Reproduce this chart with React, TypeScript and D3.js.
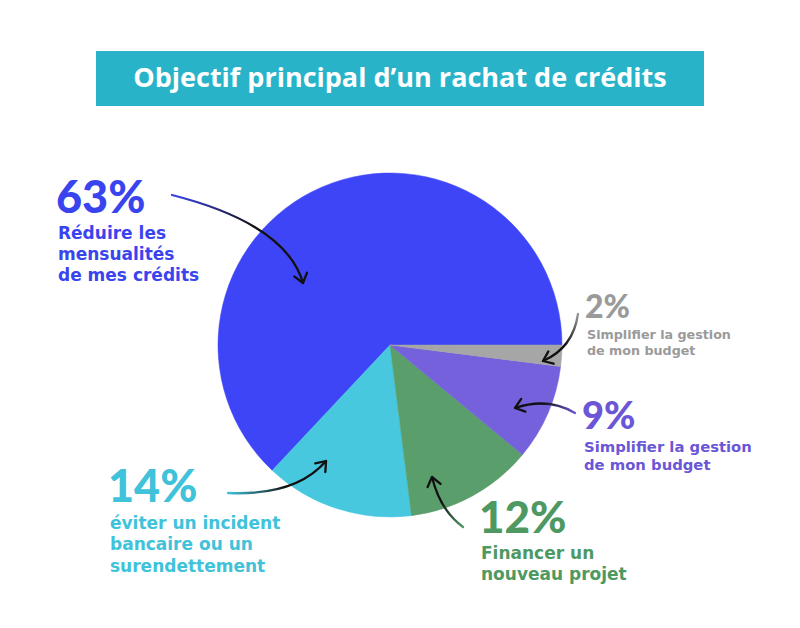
import { useEffect, useRef } from "react";
import * as d3 from "d3";

// data
const categories = [
  "Réduire les mensualités de mes crédits",
  "éviter un incident bancaire ou un surendettement",
  "Financer un nouveau projet",
  "Simplifier la gestion de mon budget",
  "Simplifier la gestion de mon budget",
];
const shares = [63, 14, 12, 9, 2];
const labelLines = [
  ["Réduire les", "mensualités", "de mes crédits"],
  ["éviter un incident", "bancaire ou un", "surendettement"],
  ["Financer un", "nouveau projet"],
  ["Simplifier la gestion", "de mon budget"],
  ["Simplifier la gestion", "de mon budget"],
];
const title = "Objectif principal d\u2019un rachat de crédits";

const sliceColors = ["#3d45f7", "#47c8de", "#5a9e6c", "#7561dc", "#a6a6a6"];
const textColors = ["#3a44ee", "#40c2da", "#4e9862", "#6a56d6", "#9a9a9a"];

// layout of each annotation: label anchor, sizes, arrow (start, control, tip)
const layout = [
  { x: 56, y: 213, big: 45, small: 17, lh: 21, arrow: [[172, 195], [286, 224], [303, 283]] },
  { x: 108, y: 502, big: 45, small: 17, lh: 21.5, arrow: [[228, 493], [296, 496], [326, 461]] },
  { x: 479, y: 533, big: 44, small: 17, lh: 21, arrow: [[463, 527], [440, 510], [432, 477]] },
  { x: 582, y: 429, big: 38, small: 14.8, lh: 18, arrow: [[575, 413], [548, 397], [515, 408]] },
  { x: 585, y: 318, big: 32, small: 12.7, lh: 16, arrow: [[578, 314], [573, 348], [543, 361]] },
];

const W = 800;
const H = 628;
const cx = 390;
const cy = 345;
const R = 172;
const TITLE_FONT = "'Open Sans', Lato, sans-serif";
const FONT = "'DejaVu Sans', 'Open Sans', sans-serif";
const NUM_FONT = "Lato, 'Open Sans', sans-serif";

export default function App() {
  const svgRef = useRef<SVGSVGElement>(null);

  useEffect(() => {
    if (!svgRef.current) return;
    const svg = d3.select(svgRef.current);
    svg.selectAll("*").remove();

    const rows = categories.map((c, i) => ({ category: c, value: shares[i], i }));

    svg.append("rect").attr("width", W).attr("height", H).attr("fill", "#fff");

    // Title banner
    svg
      .append("rect")
      .attr("x", 96)
      .attr("y", 51)
      .attr("width", 608)
      .attr("height", 55)
      .attr("fill", "#29b3c9");
    const titleText = svg
      .append("text")
      .attr("x", W / 2)
      .attr("y", 87)
      .attr("text-anchor", "middle")
      .style("font-family", TITLE_FONT)
      .style("font-weight", 700)
      .style("font-size", "25px")
      .style("fill", "#fff")
      .text(title);
    // fit the title to the width it has in the original (about 552px)
    const tw = (titleText.node() as SVGTextElement).getComputedTextLength();
    if (tw > 0) titleText.style("font-size", `${Math.min(27, (25 * 552) / tw)}px`);

    // Pie, counter-clockwise from 3 o'clock
    const pie = d3
      .pie<(typeof rows)[number]>()
      .value((d) => d.value)
      .sort(null)
      .startAngle(Math.PI / 2)
      .endAngle(Math.PI / 2 - 2 * Math.PI);

    const arc = d3.arc<d3.PieArcDatum<(typeof rows)[number]>>().innerRadius(0).outerRadius(R);

    const g = svg.append("g").attr("transform", `translate(${cx}, ${cy})`);
    g.selectAll("path")
      .data(pie(rows))
      .enter()
      .append("path")
      .attr("d", arc)
      .attr("fill", (d) => sliceColors[d.data.i])
      .attr("stroke", (d) => sliceColors[d.data.i])
      .attr("stroke-width", 0.5);

    const defs = svg.append("defs");

    // Labels + arrows
    rows.forEach((d, i) => {
      const l = layout[i];
      const col = textColors[i];

      svg
        .append("text")
        .attr("x", l.x)
        .attr("y", l.y)
        .style("font-family", NUM_FONT)
        .style("font-weight", 900)
        .style("font-size", `${l.big}px`)
        .style("fill", col)
        .text(`${d.value}%`);

      const t = svg
        .append("text")
        .style("font-family", FONT)
        .style("font-weight", 700)
        .style("font-size", `${l.small}px`)
        .style("fill", col);
      labelLines[i].forEach((line, k) => {
        t.append("tspan")
          .attr("x", l.x + 2)
          .attr("y", l.y + l.lh * (k + 1) + 5)
          .text(line);
      });

      const [s, c, e] = l.arrow;
      const gradId = `grad-${i}`;
      const grad = defs
        .append("linearGradient")
        .attr("id", gradId)
        .attr("gradientUnits", "userSpaceOnUse")
        .attr("x1", s[0])
        .attr("y1", s[1])
        .attr("x2", e[0])
        .attr("y2", e[1]);
      grad.append("stop").attr("offset", "0%").attr("stop-color", col);
      grad.append("stop").attr("offset", "55%").attr("stop-color", "#111");
      grad.append("stop").attr("offset", "100%").attr("stop-color", "#111");

      const p = d3.path();
      p.moveTo(s[0], s[1]);
      p.quadraticCurveTo(c[0], c[1], e[0], e[1]);
      svg
        .append("path")
        .attr("d", p.toString())
        .attr("fill", "none")
        .attr("stroke", `url(#${gradId})`)
        .attr("stroke-width", 2.3)
        .attr("stroke-linecap", "round");

      // arrow head
      const ang = Math.atan2(e[1] - c[1], e[0] - c[0]);
      const len = 11;
      const spread = 0.65;
      const a1 = [e[0] - len * Math.cos(ang - spread), e[1] - len * Math.sin(ang - spread)];
      const a2 = [e[0] - len * Math.cos(ang + spread), e[1] - len * Math.sin(ang + spread)];
      svg
        .append("path")
        .attr("d", `M${a1[0]},${a1[1]}L${e[0]},${e[1]}L${a2[0]},${a2[1]}`)
        .attr("fill", "none")
        .attr("stroke", "#111")
        .attr("stroke-width", 2.3)
        .attr("stroke-linecap", "round")
        .attr("stroke-linejoin", "round");
    });
  }, []);

  return (
    <svg
      ref={svgRef}
      width={W}
      height={H}
      style={{ position: "absolute", left: 0, top: 0 }}
    />
  );
}
